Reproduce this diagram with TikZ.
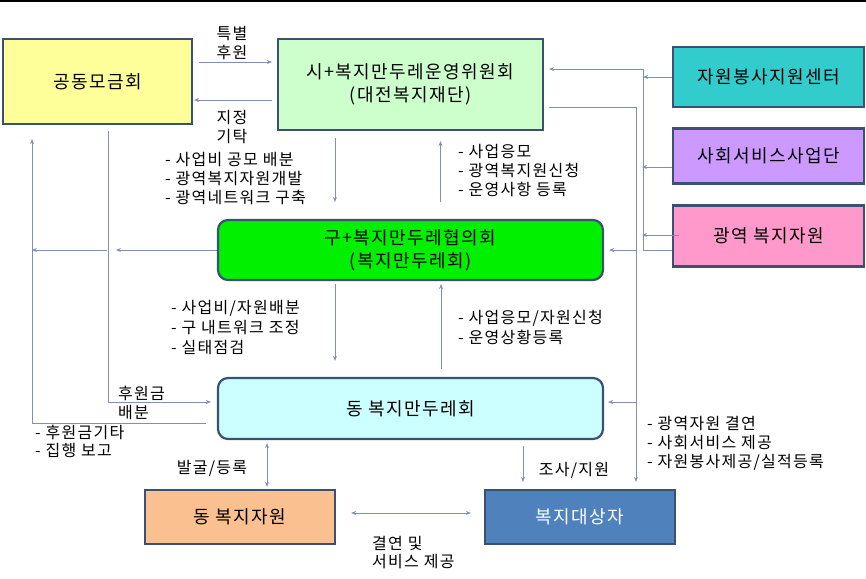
\documentclass[tikz,border=0pt]{standalone}
\usepackage{fontspec}
\setmainfont{Noto Sans CJK KR}[LetterSpace=8]
\usetikzlibrary{arrows.meta,calc}
\definecolor{rim}{HTML}{3B5174}
\definecolor{wire}{HTML}{7E91B4}
\definecolor{cyel}{HTML}{FFFF99}
\definecolor{cmint}{HTML}{CCFFCC}
\definecolor{cteal}{HTML}{33CCCC}
\definecolor{clav}{HTML}{CC99FF}
\definecolor{cpink}{HTML}{FF99CC}
\definecolor{clime}{HTML}{00F000}
\definecolor{caqua}{HTML}{CCFFFF}
\definecolor{corg}{HTML}{FAC090}
\definecolor{cblue}{HTML}{4F81BD}
\tikzset{
  box/.style={draw=rim, line width=2.2pt, inner sep=0pt, align=center,
    font=\fontsize{18}{22.5}\selectfont},
  rbox/.style={box, rounded corners=10pt},
  conn/.style={draw=wire, line width=1pt, -{Stealth[length=5pt,width=4pt]}},
  wireline/.style={draw=wire, line width=1pt},
  lbl/.style={inner sep=0pt, align=left, anchor=west,
    font=\fontsize{16}{19}\selectfont},
}
\begin{document}
\begin{tikzpicture}[x=1pt,y=-1pt]
  \useasboundingbox (0,0) rectangle (866,578);
  \draw[line width=2pt] (0,1) -- (866,1);
  % boxes
  \node[box, fill=cyel, minimum width=189, minimum height=85] (gongdong) at (97.5,81.5) {공동모금회};
  \node[box, fill=cmint, minimum width=265, minimum height=91] (siwi) at (410.5,84.5) {시+복지만두레운영위원회\\(대전복지재단)};
  \node[box, fill=cteal, minimum width=191, minimum height=60] (jawon) at (768.5,77) {자원봉사지원센터};
  \node[box, fill=clav, minimum width=191, minimum height=55] (sahoe) at (768.5,156) {사회서비스사업단};
  \node[box, fill=cpink, minimum width=191, minimum height=61] (gwangyeok) at (768.5,236) {광역 복지자원};
  \node[rbox, fill=clime, minimum width=385, minimum height=60] (guhyup) at (410.5,250) {구+복지만두레협의회\\(복지만두레회)};
  \node[rbox, fill=caqua, minimum width=385, minimum height=61] (dongman) at (410.5,408.5) {동 복지만두레회};
  \node[box, fill=corg, minimum width=190, minimum height=54] (dongjawon) at (240,517) {동 복지자원};
  \node[box, fill=cblue, text=white, minimum width=190, minimum height=54] (daesang) at (580,517) {복지대상자};

  % top row
  \draw[conn] ($(gongdong.east)+(6,-19.5)$) -- ($(siwi.west)+(-5,-22.5)$);
  \draw[conn] ($(siwi.west)+(-5,15.5)$) -- ($(gongdong.east)+(1,18.5)$);
  \node[box, draw=none, font=\fontsize{16}{19}\selectfont] (tHuwon) at (232,43) {특별\\후원};
  \node[box, draw=none, font=\fontsize{16}{19}\selectfont] (tGitak) at (232,127) {지정\\기탁};

  % si <-> gu
  \draw[conn] ($(siwi.south)+(-75.5,7)$) -- ($(guhyup.north)+(-75.5,-17)$);
  \draw[conn] ($(guhyup.north)+(30,-17)$) -- ($(siwi.south)+(30,10)$);
  \node[lbl] (tSiDown) at (165,179) {- 사업비 공모 배분\\- 광역복지자원개발\\- 광역네트워크 구축};
  \node[lbl] (tSiUp) at (458,171) {- 사업응모\\- 광역복지원신청\\- 운영사항 등록};

  % right column
  \coordinate (rtop) at (643,69);
  \coordinate (rbot) at (643,250);
  \coordinate (rmid) at (636,107);
  \draw[conn] (rbot) -- (rtop) -- ($(siwi.east |- rtop)+(5,0)$);
  \draw[wireline] (rbot) -- (gwangyeok.west |- rbot);
  \draw[conn] (jawon.west) -- (jawon.west -| rtop);
  \draw[conn] ($(sahoe.west)+(0,11)$) -- ($(sahoe.west)+(-30,11)$);
  \draw[conn] ($(gwangyeok.west)+(7,-1)$) -- ($(gwangyeok.west)+(-30,-1)$);
  \draw[conn] ($(siwi.east)+(5,22.5)$) -| ($(daesang.north)+(56,-7)$);
  \draw[conn] (rmid |- guhyup.east) -- ($(guhyup.east)+(5,0)$);
  \draw[conn] ($(dongman.east)+(33,-6.5)$) -- ($(dongman.east)+(4,-6.5)$);
  \node[lbl] (tGwang) at (647,443) {- 광역자원 결연\\- 사회서비스 제공\\- 자원봉사제공/실적등록};

  % gu <-> dong
  \draw[conn] ($(guhyup.south)+(-75.5,3)$) -- ($(dongman.north)+(-75.5,-16)$);
  \draw[conn] ($(dongman.north)+(30.5,-8)$) -- ($(guhyup.south)+(30.5,3)$);
  \node[lbl, font=\fontsize{16}{20}\selectfont] (tGuDown) at (171,328) {- 사업비/자원배분\\- 구 내트워크 조정\\- 실태점검};
  \node[lbl, font=\fontsize{16}{20}\selectfont] (tGuUp) at (458,327) {- 사업응모/자원신청\\- 운영상황등록};

  % left column
  \draw[conn] (guhyup.west) -- ($(guhyup.west)+(-101,0)$);
  \draw[conn] ($(guhyup.west)+(-110,0)$) -- ($(guhyup.west)+(-185,0)$);
  \draw[conn] ($(gongdong.south)+(10.5,6)$) |- ($(dongman.west)+(-6,-6.5)$);
  \draw[conn] ($(dongman.west)+(-11,14.5)$) -| ($(gongdong.south)+(-65.5,14)$);
  \node[lbl] (tBaebun) at (118,403) {후원금\\배분};
  \node[lbl, font=\fontsize{16}{18}\selectfont] (tBogo) at (35,441) {- 후원금기타\\- 집행 보고};

  % bottom
  \draw[conn, {Stealth[length=5pt,width=4pt]}-{Stealth[length=5pt,width=4pt]}] ($(dongman.south)+(-143.5,3)$) -- ($(dongjawon.north)+(27,-2)$);
  \draw[conn] ($(dongman.south)+(112.5,6)$) -- ($(daesang.north)+(-57,-7)$);
  \draw[conn, {Stealth[length=5pt,width=4pt]}-{Stealth[length=5pt,width=4pt]}] ($(dongjawon.east)+(15,-4)$) -- ($(daesang.west)+(-13,-4)$);
  \node[lbl, anchor=center] (tBalgul) at (212,468) {발굴/등록};
  \node[lbl, anchor=center] (tJosa) at (574,470) {조사/지원};
  \node[lbl, font=\fontsize{16}{18}\selectfont] (tGyeol) at (372,553) {결연 및\\서비스 제공};
\end{tikzpicture}
\end{document}
